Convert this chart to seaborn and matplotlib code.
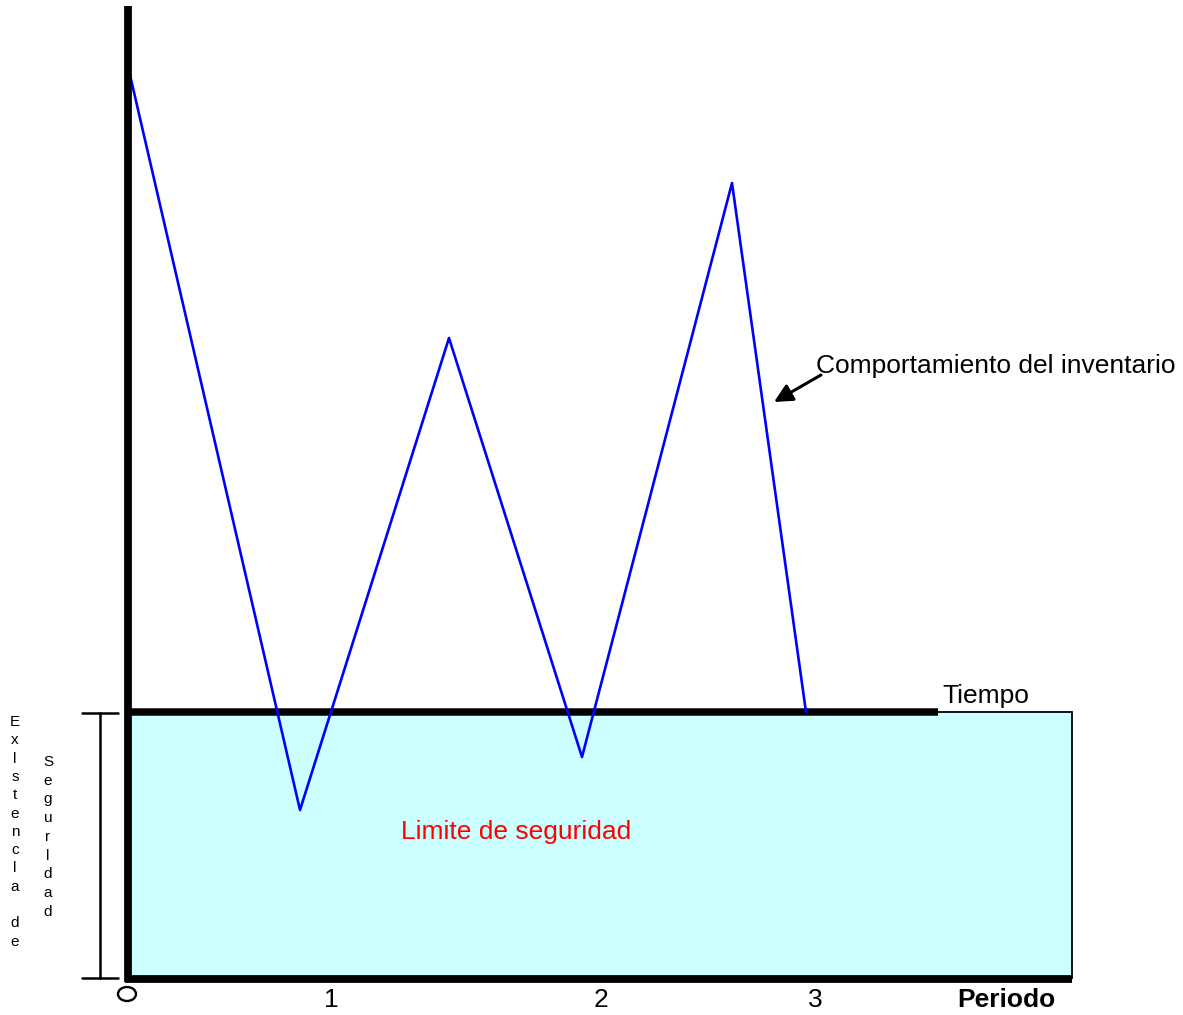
import matplotlib
matplotlib.use("Agg")
import matplotlib.pyplot as plt
from matplotlib.patches import Rectangle, Ellipse
import seaborn as sns
import pandas as pd

sns.set_style("white")
plt.rcParams['font.family'] = ['Liberation Sans', 'DejaVu Sans']
plt.rcParams['text.color'] = 'black'

# Data (time units, inventory units; 0 inventory = time axis)
time = [0, 170, 319, 452, 602, 676]
inventory = [637, -98, 374, -45, 529, 0]
safety_stock = 266
band_end = 942
period_ticks = [201, 471, 685]
period_labels = ["1", "2", "3"]

df = pd.DataFrame({"tiempo": time, "inventario": inventory})

fig = plt.figure(figsize=(11.83, 10.15), dpi=100)
ax = fig.add_axes([0, 0, 1, 1])
ax.set_xlim(-130, 1053)
ax.set_ylim(-303, 712)
ax.axis("off")

# safety stock band
ax.add_patch(Rectangle((0, -safety_stock), band_end, safety_stock,
                       facecolor="#CCFFFF", edgecolor="black", lw=1.3, zorder=1))

# inventory line
sns.lineplot(data=df, x="tiempo", y="inventario", sort=False, color="#0000FF",
             lw=1.9, ax=ax, zorder=3, legend=False)

# axes lines
ax.plot([-2, -2], [706, -270], color="black", lw=5.6, solid_capstyle="butt", zorder=4)
ax.plot([-2, 808], [0, 0], color="black", lw=5.4, solid_capstyle="butt", zorder=2)
ax.plot([-5, band_end], [-267, -267], color="black", lw=5.6, solid_capstyle="butt", zorder=4)

# bracket
ax.plot([-30, -30], [-1, -266], color="black", lw=1.8, zorder=4)
ax.plot([-48, -12], [-1, -1], color="black", lw=1.8, zorder=4)
ax.plot([-48, -12], [-266, -266], color="black", lw=1.8, zorder=4)

# origin circle
ax.add_patch(Ellipse((-3, -282), 18, 14, facecolor="none", edgecolor="black", lw=1.7, zorder=4))

# tick labels
for xt, lab in zip(period_ticks, period_labels):
    ax.text(xt, -295, lab, ha="center", va="baseline", fontsize=19)
ax.text(827, -295, "Periodo", ha="left", va="baseline", fontsize=19, fontweight="bold")

ax.text(812, 9, "Tiempo", ha="left", va="baseline", fontsize=19)
ax.text(686, 339, "Comportamiento del inventario", ha="left", va="baseline", fontsize=19)
ax.text(271, -127, "Limite de seguridad", ha="left", va="baseline", fontsize=19, color="red")

ax.annotate("", xy=(644, 310), xytext=(691, 337),
            arrowprops=dict(arrowstyle="-|>,head_length=1.1,head_width=0.55",
                            color="black", lw=2.2, shrinkA=0, shrinkB=0))

# vertical stacked labels
word1 = "Exlstencla de"
for i, ch in enumerate(word1):
    ax.text(-115, -10 - i * 18.3, ch, ha="center", va="center", fontsize=11)
word2 = "Segurldad"
for i, ch in enumerate(word2):
    ax.text(-82, -50 - i * 18.75, ch, ha="center", va="center", fontsize=11)

fig.savefig("out.png", dpi=100)
